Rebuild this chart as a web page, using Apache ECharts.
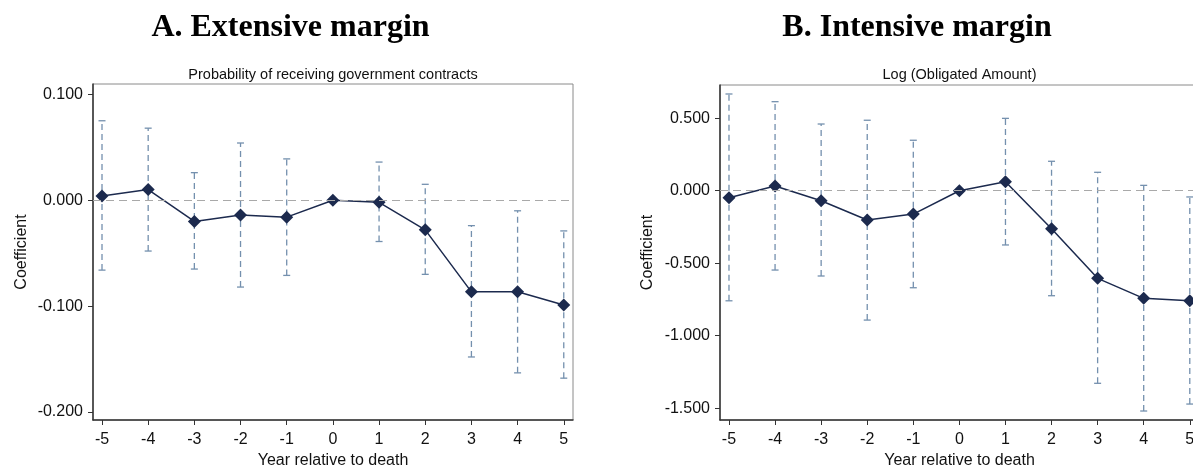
<!DOCTYPE html>
<html><head><meta charset="utf-8">
<script src="https://cdn.jsdelivr.net/npm/echarts@6/dist/echarts.min.js"></script>
<style>html,body{margin:0;padding:0;background:#fff;}#c{width:1193px;height:466px;}</style>
</head><body><div id="c"></div>
<script>
const years = [-5,-4,-3,-2,-1,0,1,2,3,4,5];
const xTicks = [-5,-4,-3,-2,-1,0,1,2,3,4,5];
// Panel A: Probability of receiving government contracts
const coefA = [0.004, 0.010, -0.020, -0.014, -0.016, 0.000, -0.002, -0.028, -0.0865, -0.0865, -0.099];
const loA   = [-0.066, -0.048, -0.065, -0.082, -0.071, null, -0.039, -0.070, -0.148, -0.163, -0.168];
const hiA   = [0.075, 0.068, 0.026, 0.054, 0.039, null, 0.036, 0.015, -0.024, -0.010, -0.029];
const yTicksA = [-0.2, -0.1, 0, 0.1];
// Panel B: Log (Obligated Amount)
const coefB = [-0.048, 0.032, -0.069, -0.202, -0.161, 0.000, 0.062, -0.262, -0.604, -0.742, -0.759];
const loB   = [-0.759, -0.547, -0.588, -0.892, -0.669, null, -0.374, -0.724, -1.328, -1.519, -1.471];
const hiB   = [0.667, 0.614, 0.460, 0.486, 0.348, null, 0.499, 0.203, 0.127, 0.037, -0.043];
const yTicksB = [-1.5, -1.0, -0.5, 0, 0.5];

const chart = echarts.init(document.getElementById('c'));
const FONT = '"Liberation Sans", Arial, sans-serif';
const CI = '#7490ae';
const LINE = '#1c2a4e';

function ciData(lo, hi){ const d=[]; years.forEach((y,i)=>{ if(lo[i]!==null) d.push([y, lo[i], hi[i]]); }); return d; }
function renderCI(params, api){
  const x = api.value(0), lo = api.value(1), hi = api.value(2);
  const pLo = api.coord([x, lo]), pHi = api.coord([x, hi]);
  const cap = 3.5;
  const st = {stroke: CI, lineWidth: 1.3};
  return {type:'group', children:[
    {type:'line', shape:{x1:pLo[0], y1:pLo[1], x2:pHi[0], y2:pHi[1]}, style:Object.assign({lineDash:[6,4]}, st)},
    {type:'line', shape:{x1:pLo[0]-cap, y1:pLo[1], x2:pLo[0]+cap, y2:pLo[1]}, style:st},
    {type:'line', shape:{x1:pHi[0]-cap, y1:pHi[1], x2:pHi[0]+cap, y2:pHi[1]}, style:st}
  ]};
}
function xAxis(idx){
  return {type:'value', gridIndex:idx, min:-5.195, max:5.2,
    name:'Year relative to death', nameLocation:'middle', nameGap:20,
    nameTextStyle:{fontFamily:FONT, fontSize:16, color:'#111'},
    axisLine:{show:true, onZero:false, lineStyle:{color:'#333', width:1.5}},
    axisTick:{show:true, length:5, customValues:xTicks, lineStyle:{color:'#333'}},
    axisLabel:{customValues:xTicks, margin:12, fontFamily:FONT, fontSize:16, color:'#111'},
    splitLine:{show:false}};
}
function yAxis(idx, min, max, ticks, gap){
  return {type:'value', gridIndex:idx, min:min, max:max,
    name:'Coefficient', nameLocation:'middle', nameGap:gap,
    nameTextStyle:{fontFamily:FONT, fontSize:16, color:'#111'},
    axisLine:{show:true, onZero:false, lineStyle:{color:'#333', width:1.5}},
    axisTick:{show:true, length:5, customValues:ticks, lineStyle:{color:'#333'}},
    axisLabel:{customValues:ticks, margin:10, fontFamily:FONT, fontSize:16, color:'#111',
      formatter:v=>v.toFixed(3)},
    splitLine:{show:false}};
}
const zeroLine = {silent:true, symbol:'none', label:{show:false},
  lineStyle:{color:'#a9a9a9', type:[8,5], width:1}, data:[{yAxis:0}]};

chart.setOption({
  animation:false,
  grid:[
    {left:93, top:84, width:480, height:336, show:true, borderColor:'#8a8a8a', borderWidth:1, outerBoundsMode:'none', containLabel:false},
    {left:720, top:85, width:479, height:335, show:true, borderColor:'#8a8a8a', borderWidth:1, outerBoundsMode:'none', containLabel:false}
  ],
  xAxis:[xAxis(0), xAxis(1)],
  yAxis:[yAxis(0,-0.2075,0.1097,yTicksA,63), yAxis(1,-1.581,0.729,yTicksB,64)],
  graphic:[
    {type:'text', x:290.5, y:28, style:{text:'A. Extensive margin', textAlign:'center', textVerticalAlign:'middle', font:'bold 32px "Liberation Serif", "Times New Roman", serif', fill:'#000'}},
    {type:'text', x:917, y:28, style:{text:'B. Intensive margin', textAlign:'center', textVerticalAlign:'middle', font:'bold 32px "Liberation Serif", "Times New Roman", serif', fill:'#000'}},
    {type:'text', x:333, y:75, style:{text:'Probability of receiving government contracts', textAlign:'center', textVerticalAlign:'middle', font:'14.5px "Liberation Sans", Arial, sans-serif', fill:'#111'}},
    {type:'text', x:959.5, y:75, style:{text:'Log (Obligated Amount)', textAlign:'center', textVerticalAlign:'middle', font:'14.5px "Liberation Sans", Arial, sans-serif', fill:'#111'}}
  ],
  series:[
    {type:'custom', xAxisIndex:0, yAxisIndex:0, renderItem:renderCI, data:ciData(loA,hiA), z:2},
    {type:'line', xAxisIndex:0, yAxisIndex:0, data:years.map((y,i)=>[y,coefA[i]]), symbol:'diamond', symbolSize:13,
      itemStyle:{color:LINE}, lineStyle:{color:LINE, width:1.5}, z:3, markLine:zeroLine},
    {type:'custom', xAxisIndex:1, yAxisIndex:1, renderItem:renderCI, data:ciData(loB,hiB), z:2},
    {type:'line', xAxisIndex:1, yAxisIndex:1, data:years.map((y,i)=>[y,coefB[i]]), symbol:'diamond', symbolSize:13,
      itemStyle:{color:LINE}, lineStyle:{color:LINE, width:1.5}, z:3, markLine:zeroLine}
  ]
});
</script></body></html>
